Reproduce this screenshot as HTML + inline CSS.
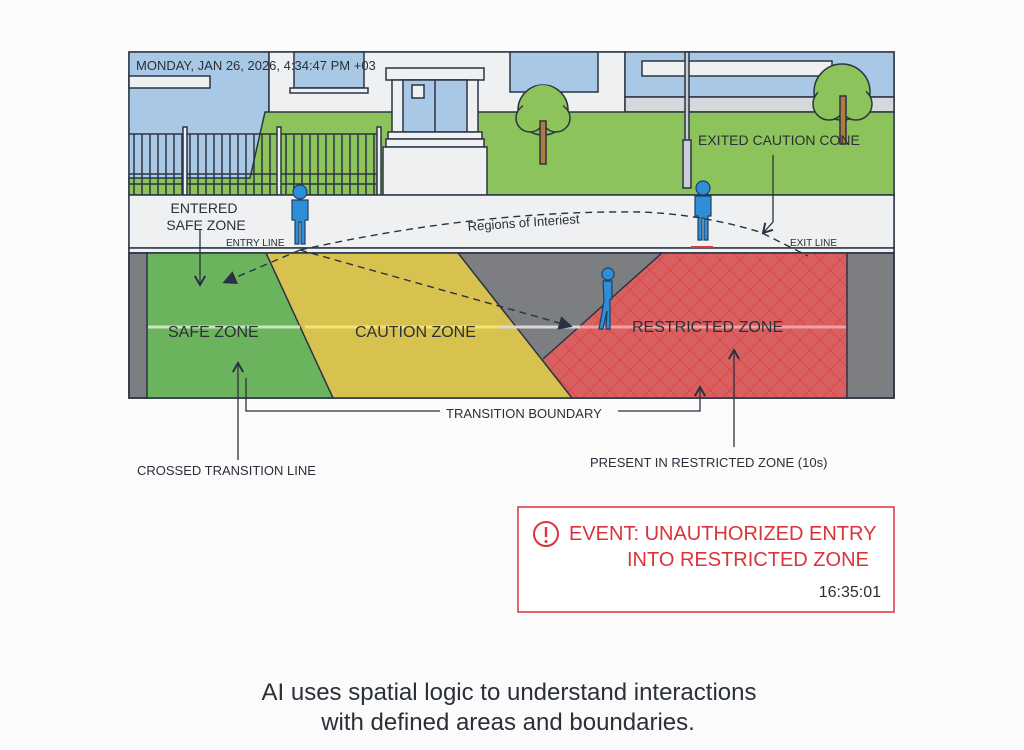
<!DOCTYPE html>
<html><head><meta charset="utf-8"><style>
html,body{margin:0;padding:0;background:#fbfbfb;}
svg{display:block;}
text{font-family:"Liberation Sans",sans-serif;fill:#2a2f38;}
</style></head><body>
<svg width="1024" height="750" viewBox="0 0 1024 750" xmlns="http://www.w3.org/2000/svg">
<defs>
<pattern id="hatch" width="20" height="20" patternUnits="userSpaceOnUse">
<path d="M0 0 L20 20 M20 0 L0 20" stroke="#e0343a" stroke-width="1" opacity="0.6"/>
</pattern>
<marker id="ah" markerWidth="10" markerHeight="10" refX="8" refY="5" orient="auto"><path d="M0 0 L10 5 L0 10 Z" fill="#2a3140"/></marker>
<marker id="ao" markerWidth="10" markerHeight="10" refX="8" refY="5" orient="auto"><path d="M1 1 L8 5 L1 9" fill="none" stroke="#2a3140" stroke-width="1.5"/></marker>
</defs>
<rect width="1024" height="750" fill="#fbfbfb"/>
<g stroke="#2b3444" stroke-width="1.5">
<rect x="129" y="52" width="765" height="346" fill="#eef0f2"/>
<rect x="129" y="52" width="140" height="130" fill="#a9c8e6"/>
<rect x="129" y="76" width="81" height="12" fill="#eef0f2"/>
<rect x="269" y="52" width="356" height="130" fill="#eef0f2"/>
<rect x="294" y="52" width="70" height="36" fill="#a9c8e6"/>
<rect x="290" y="88" width="78" height="5" fill="#eef0f2"/>
<rect x="510" y="52" width="88" height="40" fill="#a9c8e6"/>
<rect x="625" y="52" width="269" height="45" fill="#a9c8e6"/>
<rect x="642" y="61" width="190" height="15" fill="#eef0f2"/>
<rect x="625" y="97" width="269" height="15" fill="#d6d8db"/>
<path d="M265 112 L894 112 L894 195 L129 195 L129 178 L250 178 Z" fill="#8cc35a"/>
</g>
<g stroke="#2b3444" stroke-width="1.5" fill="none">
<line x1="129" y1="134" x2="380" y2="134"/>
<line x1="129" y1="174" x2="380" y2="174"/>
<line x1="129" y1="184" x2="380" y2="184"/>
<path d="M134 134V195M142 134V195M150 134V195M158 134V195M166 134V195M174 134V195M182 134V195M190 134V195M198 134V195M206 134V195M214 134V195M222 134V195M230 134V195M238 134V195M246 134V195M254 134V195M262 134V195M270 134V195M278 134V195M286 134V195M294 134V195M302 134V195M310 134V195M318 134V195M326 134V195M334 134V195M342 134V195M350 134V195M358 134V195M366 134V195M374 134V195"/>
<rect x="183" y="127" width="4" height="68" fill="#eef0f2"/>
<rect x="277" y="127" width="4" height="68" fill="#eef0f2"/>
<rect x="377" y="127" width="4" height="68" fill="#eef0f2"/>
</g>
<g stroke="#2b3444" stroke-width="1.5">
<rect x="386" y="68" width="98" height="12" fill="#eef0f2"/>
<rect x="392" y="80" width="86" height="52" fill="#eef0f2"/>
<rect x="403" y="80" width="64" height="52" fill="#a9c8e6"/>
<line x1="435" y1="80" x2="435" y2="132"/>
<rect x="412" y="85" width="12" height="13" fill="#eef0f2"/>
<rect x="388" y="132" width="94" height="7" fill="#eef0f2"/>
<rect x="386" y="139" width="98" height="8" fill="#eef0f2"/>
<rect x="383" y="147" width="104" height="48" fill="#eef0f2"/>
</g>
<g stroke="#2b3444" stroke-width="1.5">
<circle cx="543" cy="110" r="25" fill="#8cc35a"/>
<circle cx="530" cy="118" r="14" fill="#8cc35a"/><circle cx="556" cy="118" r="14" fill="#8cc35a"/>
<circle cx="543" cy="105" r="20" fill="#8cc35a" stroke="none"/>
<rect x="540" y="121" width="6" height="43" fill="#b0793e"/>
<circle cx="842" cy="92" r="28" fill="#8cc35a"/>
<circle cx="829" cy="104" r="16" fill="#8cc35a"/><circle cx="856" cy="104" r="16" fill="#8cc35a"/>
<circle cx="842" cy="90" r="24" fill="#8cc35a" stroke="none"/>
<rect x="840" y="96" width="6" height="48" fill="#b0793e"/>
<rect x="685" y="52" width="4" height="90" fill="#c9ced6"/>
<rect x="683" y="140" width="8" height="48" fill="#c9ced6"/>
</g>
<rect x="129" y="195" width="765" height="53" fill="#eef0f2" stroke="#2b3444" stroke-width="1.5"/>
<rect x="129" y="248" width="765" height="5" fill="#eef0f2" stroke="#2b3444" stroke-width="1.5"/>
<rect x="129" y="253" width="765" height="145" fill="#7c7e82" stroke="#2b3444" stroke-width="1.5"/>
<polygon points="147,253 266,253 333,398 147,398" fill="#6bb35d"/>
<polygon points="266,253 458,253 572,398 333,398" fill="#d8c24f"/>
<polygon points="662,253 847,253 847,398 572,398 543,359" fill="#d96060"/>
<polygon points="662,253 847,253 847,398 572,398 543,359" fill="url(#hatch)"/>
<g stroke="#2b3444" stroke-width="1.5" fill="none">
<line x1="147" y1="253" x2="147" y2="398"/>
<line x1="847" y1="253" x2="847" y2="398"/>
<line x1="266" y1="253" x2="333" y2="398"/>
<line x1="458" y1="253" x2="572" y2="398"/>
<line x1="662" y1="253" x2="543" y2="359"/>
<rect x="129" y="253" width="765" height="145"/>
</g>
<line x1="148" y1="327" x2="300" y2="327" stroke="#c7e6bd" stroke-width="3"/>
<line x1="305" y1="327" x2="500" y2="327" stroke="#f6e270" stroke-width="3"/>
<line x1="500" y1="327" x2="580" y2="327" stroke="#d8d8d8" stroke-width="3"/>
<line x1="580" y1="327" x2="846" y2="327" stroke="#f2a0a0" stroke-width="3"/>
<g fill="#2f8fd6" stroke="#1f3f66" stroke-width="1.2">
<circle cx="300" cy="192" r="7"/>
<path d="M292 200 h16 v20 h-3 v24 h-4 v-22 h-2 v22 h-4 v-24 h-3 z"/>
<circle cx="703" cy="188" r="7"/>
<path d="M695 196 h16 v20 h-3 v24 h-4 v-22 h-2 v22 h-4 v-24 h-3 z"/>
<circle cx="608" cy="274" r="6"/>
<path d="M603 281 h9 v18 l-2 0 v30 h-4 l1 -18 l-4 18 h-4 l5 -28 z"/>
</g>
<line x1="691" y1="247" x2="713" y2="247" stroke="#e0343a" stroke-width="2"/>
<g stroke="#2a3140" stroke-width="1.4" fill="none" stroke-dasharray="7,5">
<path d="M300 250 Q480 210 640 212 Q700 214 760 232 L808 256"/>
<path d="M300 250 L225 282" marker-end="url(#ah)"/>
<path d="M300 250 L570 326" marker-end="url(#ah)"/>
</g>
<g stroke="#2a3140" stroke-width="1.3" fill="none">
<line x1="200" y1="230" x2="200" y2="285" marker-end="url(#ao)"/>
<path d="M773 155 V222 L763 233" marker-end="url(#ao)"/>
<line x1="238" y1="460" x2="238" y2="363" marker-end="url(#ao)"/>
<line x1="734" y1="447" x2="734" y2="350" marker-end="url(#ao)"/>
<path d="M246 378 V411 H440"/>
<path d="M618 411 H700 V387" marker-end="url(#ao)"/>
</g>
<text x="136" y="70" font-size="13">MONDAY, JAN 26, 2026, 4:34:47 PM +03</text>
<text x="204" y="213" font-size="14" text-anchor="middle">ENTERED</text>
<text x="206" y="230" font-size="14" text-anchor="middle">SAFE ZONE</text>
<text x="226" y="246" font-size="10">ENTRY LINE</text>
<text x="468" y="231" font-size="13" transform="rotate(-4 468 231)">Regions of Interiest</text>
<text x="698" y="145" font-size="14">EXITED CAUTION CONE</text>
<text x="790" y="246" font-size="10">EXIT LINE</text>
<text x="168" y="337" font-size="16">SAFE ZONE</text>
<text x="355" y="337" font-size="16">CAUTION ZONE</text>
<text x="632" y="332" font-size="16">RESTRICTED ZONE</text>
<text x="446" y="418" font-size="13">TRANSITION BOUNDARY</text>
<text x="137" y="475" font-size="13">CROSSED TRANSITION LINE</text>
<text x="590" y="467" font-size="13">PRESENT IN RESTRICTED ZONE (10s)</text>
<rect x="518" y="507" width="376" height="105" fill="#fff" stroke="#d9343a" stroke-width="1.5"/>
<circle cx="546" cy="534" r="12" fill="none" stroke="#d9343a" stroke-width="2"/>
<line x1="546" y1="527" x2="546" y2="537" stroke="#d9343a" stroke-width="2.4"/>
<circle cx="546" cy="541.5" r="1.5" fill="#d9343a"/>
<text x="569" y="540" font-size="20" style="fill:#d9343a">EVENT: UNAUTHORIZED ENTRY</text>
<text x="627" y="566" font-size="20" style="fill:#d9343a">INTO RESTRICTED ZONE</text>
<text x="881" y="597" font-size="16" text-anchor="end">16:35:01</text>
<text x="509" y="700" font-size="24" text-anchor="middle">AI uses spatial logic to understand interactions</text>
<text x="508" y="730" font-size="24" text-anchor="middle">with defined areas and boundaries.</text>
</svg>
</body></html>
